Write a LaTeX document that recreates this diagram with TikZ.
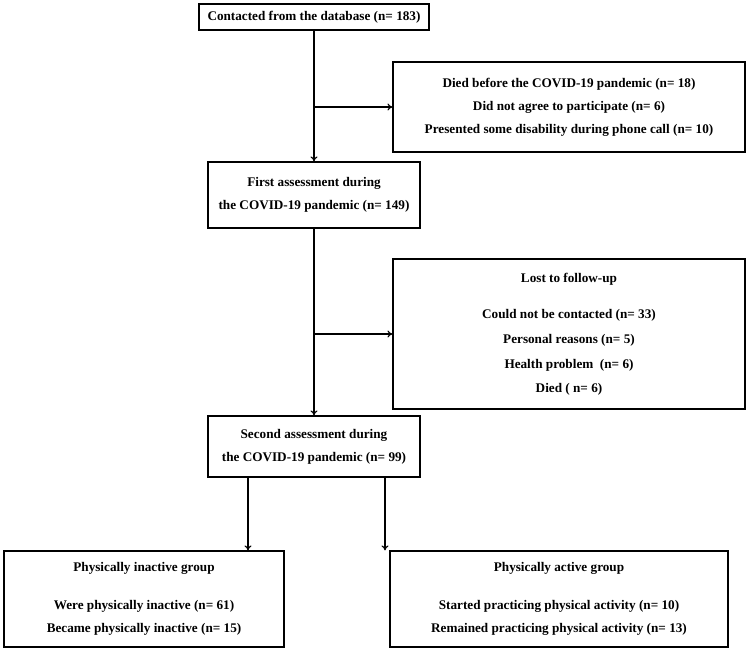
\documentclass[tikz,border=0pt]{standalone}
\usepackage{fontspec}
\setmainfont{Liberation Serif}
\usetikzlibrary{arrows.meta}

\tikzset{
  flowbox/.style={draw, line width=1.2pt, align=center, inner sep=0pt,
    font=\fontsize{13.2}{23}\selectfont\bfseries},
  arr/.style={line width=1.2pt, -{To[length=5pt,width=7pt]}}
}

\begin{document}
\begin{tikzpicture}[x=1pt,y=-1pt]
  \useasboundingbox (0,0) rectangle (750,651);
  % main column
  \node[flowbox, minimum width=230, minimum height=26] (contact) at (314,17) {Contacted from the database (n= 183)};
  \node[flowbox, minimum width=212, minimum height=66] (first) at (314,195) {First assessment during\\the COVID-19 pandemic (n= 149)};
  \node[flowbox, minimum width=212, minimum height=61] (second) at (314,446.5) {Second assessment during\\the COVID-19 pandemic (n= 99)};
  % exclusions
  \node[flowbox, minimum width=352, minimum height=90] (excluded) at (569,107) {Died before the COVID-19 pandemic (n= 18)\\Did not agree to participate (n= 6)\\Presented some disability during phone call (n= 10)};
  \node[flowbox, minimum width=352, minimum height=150] (lost) at (569,334) {Lost to follow-up\\[13pt]Could not be contacted (n= 33)\\[2pt]Personal reasons (n= 5)\\[2pt]Health problem~ (n= 6)\\[1pt]Died ( n= 6)};
  % groups
  \node[flowbox, minimum width=280, minimum height=96] (inactive) at (144,599) {Physically inactive group\\[15pt]Were physically inactive (n= 61)\\Became physically inactive (n= 15)};
  \node[flowbox, minimum width=338, minimum height=96] (active) at (559,599) {Physically active group\\[15pt]Started practicing physical activity (n= 10)\\Remained practicing physical activity (n= 13)};
  % connectors
  \draw[arr] (contact.south -| first.north) -- (first.north);
  \draw[arr] (first.north |- excluded.west) -- (excluded.west);
  \draw[arr] (first.south) -- (second.north);
  \draw[arr] (first.south |- lost.west) -- (lost.west);
  \coordinate (s1) at (248,477);
  \coordinate (s2) at (385,477);
  \draw[arr] (s1) -- (s1 |- inactive.north);
  \draw[arr] (s2) -- (s2 |- active.north);
\end{tikzpicture}
\end{document}
